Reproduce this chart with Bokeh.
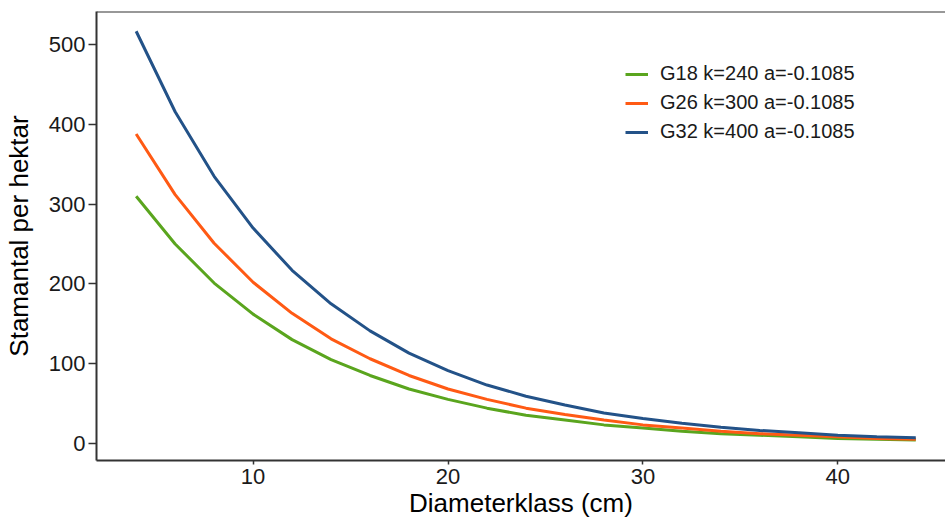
from bokeh.plotting import figure
from bokeh.models import Range1d, Legend, LegendItem, Span, FixedTicker
from bokeh.embed import file_html
from bokeh.resources import INLINE

diam = [4, 6, 8, 10, 12, 14, 16, 18, 20, 22, 24, 26, 28, 30, 32, 34, 36, 38, 40, 42, 44]
g18 = [310, 250, 201, 162, 130, 105, 85, 68, 55, 44, 35, 29, 23, 19, 15, 12, 10, 8, 6, 5, 4]
g26 = [388, 312, 251, 202, 163, 131, 106, 85, 68, 55, 44, 36, 29, 23, 19, 15, 12, 10, 8, 6, 5]
g32 = [517, 416, 335, 270, 217, 175, 141, 113, 91, 73, 59, 48, 38, 31, 25, 20, 16, 13, 10, 8, 7]
labels = ["G18 k=240 a=-0.1085", "G26 k=300 a=-0.1085", "G32 k=400 a=-0.1085"]
colors = ["#5aa51e", "#ff5a14", "#235288"]
x_ticks = [10, 20, 30, 40]
y_ticks = [0, 100, 200, 300, 400, 500]
x_title = "Diameterklass (cm)"
y_title = "Stamantal per hektar"

FONT = "Liberation Sans"
X0, X1 = 1.965, 45.525
Y0, Y1 = -21.7, 541.8

p = figure(width=945, height=520, output_backend="svg", toolbar_location=None,
           x_range=Range1d(X0, X1), y_range=Range1d(Y0, Y1),
           min_border_left=96, min_border_right=0, min_border_top=11, min_border_bottom=60)
p.outline_line_color = None
p.xgrid.grid_line_color = None
p.ygrid.grid_line_color = None
p.background_fill_color = "white"
p.border_fill_color = "white"

renderers = []
for series, c in zip([g18, g26, g32], colors):
    r = p.line(diam, series, line_color=c, line_width=3)
    renderers.append(r)

# top border of panel
p.add_layout(Span(location=Y1, dimension="width", line_color="#333333", line_width=2))

for ax in (p.xaxis[0], p.yaxis[0]):
    ax.axis_line_color = "#333333"
    ax.axis_line_width = 2
    ax.major_tick_line_color = "#333333"
    ax.major_tick_line_width = 1.5
    ax.minor_tick_line_color = None
    ax.major_tick_in = 0
    ax.major_label_text_font = FONT
    ax.major_label_text_font_size = "22px"
    ax.major_label_text_color = "#1a1a1a"
    ax.axis_label_text_font = FONT
    ax.axis_label_text_font_size = "26px"
    ax.axis_label_text_font_style = "normal"
    ax.axis_label_text_color = "#000000"

p.xaxis[0].ticker = FixedTicker(ticks=x_ticks)
p.yaxis[0].ticker = FixedTicker(ticks=y_ticks)
p.xaxis[0].major_tick_out = 4
p.yaxis[0].major_tick_out = 8
p.xaxis[0].major_label_standoff = 4
p.yaxis[0].major_label_standoff = 3
p.xaxis[0].axis_label = x_title
p.yaxis[0].axis_label = y_title
p.xaxis[0].axis_label_standoff = 1
p.yaxis[0].axis_label_standoff = 12

legend = Legend(items=[LegendItem(label=l, renderers=[r]) for l, r in zip(labels, renderers)],
                location=(529, 317))
legend.border_line_color = None
legend.background_fill_alpha = 0
legend.padding = 0
legend.margin = 0
legend.spacing = 6
legend.glyph_width = 23
legend.glyph_height = 20
legend.label_standoff = 12
legend.label_text_font = FONT
legend.label_text_font_size = "20px"
legend.label_text_color = "#1a1a1a"
legend.label_height = 20
p.add_layout(legend)

open("out.html", "w").write(file_html(p, INLINE))
